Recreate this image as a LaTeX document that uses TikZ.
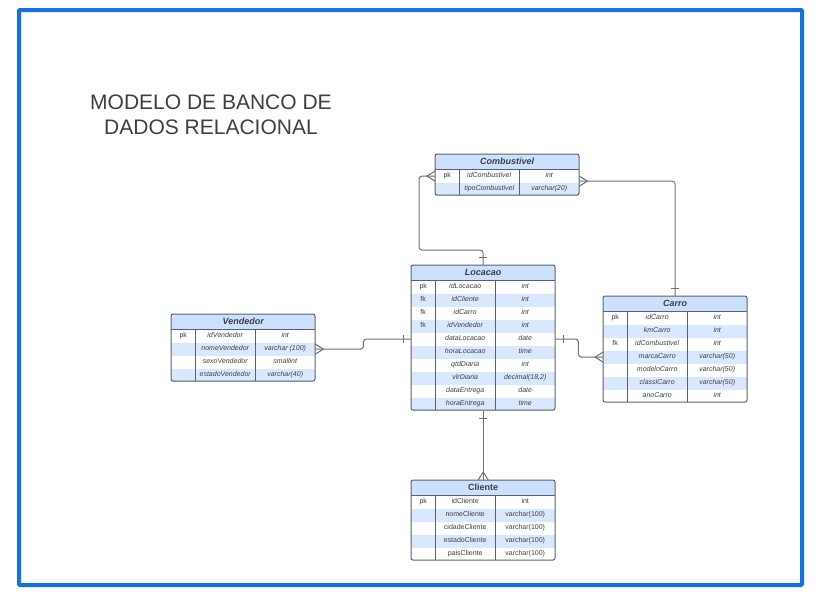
\documentclass[tikz,border=0pt]{standalone}
\usepackage{fontspec}
\setmainfont{Liberation Sans}
\definecolor{azulmoldura}{HTML}{1471E4}
\definecolor{azulcabeca}{HTML}{CCE0FE}
\definecolor{azullinha}{HTML}{DAE8FD}
\definecolor{cinzaborda}{HTML}{5C6168}
\definecolor{cinzaliga}{HTML}{707070}
\definecolor{cinzatexto}{HTML}{3C4043}

\tikzset{
  cabecalho/.style={anchor=north west, minimum width=144pt, minimum height=15pt, inner sep=0pt,
    fill=azulcabeca, text=cinzatexto, font=\fontsize{9}{10}\selectfont\bfseries},
  celula/.style={anchor=north west, minimum height=13pt, inner sep=0pt, text=cinzatexto,
    text height=5.2pt, text depth=1.5pt, font=\fontsize{7}{8}\selectfont},
  borda/.style={draw=cinzaborda, line width=1pt, rounded corners=2pt},
  divisoria/.style={draw=cinzaborda, line width=1pt},
  liga/.style={draw=cinzaliga, line width=1pt, rounded corners=3pt},
  pics/muitos/.style={code={\draw[cinzaliga, line width=1pt] (0,5) -- (8,0) -- (0,-5);}},
  pics/um/.style={code={\draw[cinzaliga, line width=1pt] (8,-4) -- (8,4);}},
}

% tabela: nome, canto, titulo, linhas, estilo, campos
\newcommand{\tabela}[6]{%
  \node[cabecalho] (#1) at #2 {#3};
  \foreach \chave/\campo/\tipo [count=\i] in {#6} {
    \ifodd\i\def\cor{white}\else\def\cor{azullinha}\fi
    \node[celula, fill=\cor, minimum width=24pt, yshift={-13*(\i-1)}] (#1-\i-k) at (#1.south west) {\chave};
    \node[celula, fill=\cor, minimum width=60pt, xshift=24pt, yshift={-13*(\i-1)}] (#1-\i-n) at (#1.south west) {#5\campo};
    \node[celula, fill=\cor, minimum width=60pt, xshift=84pt, yshift={-13*(\i-1)}] (#1-\i-t) at (#1.south west) {#5\tipo};
  }
  \draw[divisoria] (#1.south west) -- (#1.south east);
  \draw[divisoria] ([xshift=24pt]#1.south west) -- ++(0,13*#4);
  \draw[divisoria] ([xshift=84pt]#1.south west) -- ++(0,13*#4);
  \draw[borda] (#1.north west) rectangle ++(144,15+13*#4);
}

\begin{document}
\begin{tikzpicture}[x=1pt, y=-1pt]
  \useasboundingbox (0,0) rectangle (838,603);
  \draw[azulmoldura, line width=4pt, rounded corners=1pt] (19,10) rectangle (802,585);

  \node[text=cinzatexto, align=center, font=\fontsize{21}{25}\selectfont] (titulo) at (211,115)
    {MODELO DE BANCO DE\\DADOS RELACIONAL};

  \tabela{comb}{(435,154)}{\itshape Combustivel}{2}{\itshape}
    {pk/idCombustivel/int, {}/tipoCombustivel/varchar(20)}
  \tabela{locacao}{(411,265)}{\itshape Locacao}{10}{\itshape}
    {pk/idLocacao/int, fk/idCliente/int, fk/idCarro/int, fk/idVendedor/int,
     {}/dataLocacao/date, {}/horaLocacao/time, {}/qtdDiaria/int,
     {}/vlrDiaria/{decimal(18,2)}, {}/dataEntrega/date, {}/horaEntrega/time}
  \tabela{vend}{(171,314)}{\itshape Vendedor}{4}{\itshape}
    {pk/idVendedor/int, {}/nomeVendedor/varchar (100), {}/sexoVendedor/smallint,
     {}/estadoVendedor/varchar(40)}
  \tabela{carro}{(603,296)}{\itshape Carro}{7}{\itshape}
    {pk/idCarro/int, {}/kmCarro/int, fk/idCombustivel/int, {}/marcaCarro/varchar(50),
     {}/modeloCarro/varchar(50), {}/classiCarro/varchar(50), {}/anoCarro/int}
  \tabela{cliente}{(411,480)}{Cliente}{5}{\upshape}
    {pk/idCliente/int, {}/nomeCliente/varchar(100), {}/cidadeCliente/varchar(100),
     {}/estadoCliente/varchar(100), {}/paisCliente/varchar(100)}

  % ligacoes
  \draw[liga] (comb-1-k.west) -- ++(-16,0) -- ++(0,74) -| (locacao.north);
  \draw[liga] ([yshift=-5pt]comb-1-t.east) -| (carro.north);
  \draw[liga] (vend-2-t.east) -- ++(48,0) |- (locacao-5-k.west);
  \draw[liga] (locacao-5-t.east) -- ++(23,0) |- (carro-4-k.west);
  \draw[liga] (locacao.north |- locacao-10-n.south) -- (cliente.north);

  % cardinalidades
  \path (comb-1-k.west) pic[rotate=180] {muitos};
  \path (locacao.north) pic[rotate=90] {um};
  \path ([yshift=-5pt]comb-1-t.east) pic {muitos};
  \path (carro.north) pic[rotate=90] {um};
  \path (vend-2-t.east) pic {muitos};
  \path (locacao-5-k.west) pic[rotate=180] {um};
  \path (locacao-5-t.east) pic {um};
  \path (carro-4-k.west) pic[rotate=180] {muitos};
  \path (locacao.north |- locacao-10-n.south) pic[rotate=-90] {um};
  \path (cliente.north) pic[rotate=90] {muitos};
\end{tikzpicture}
\end{document}
